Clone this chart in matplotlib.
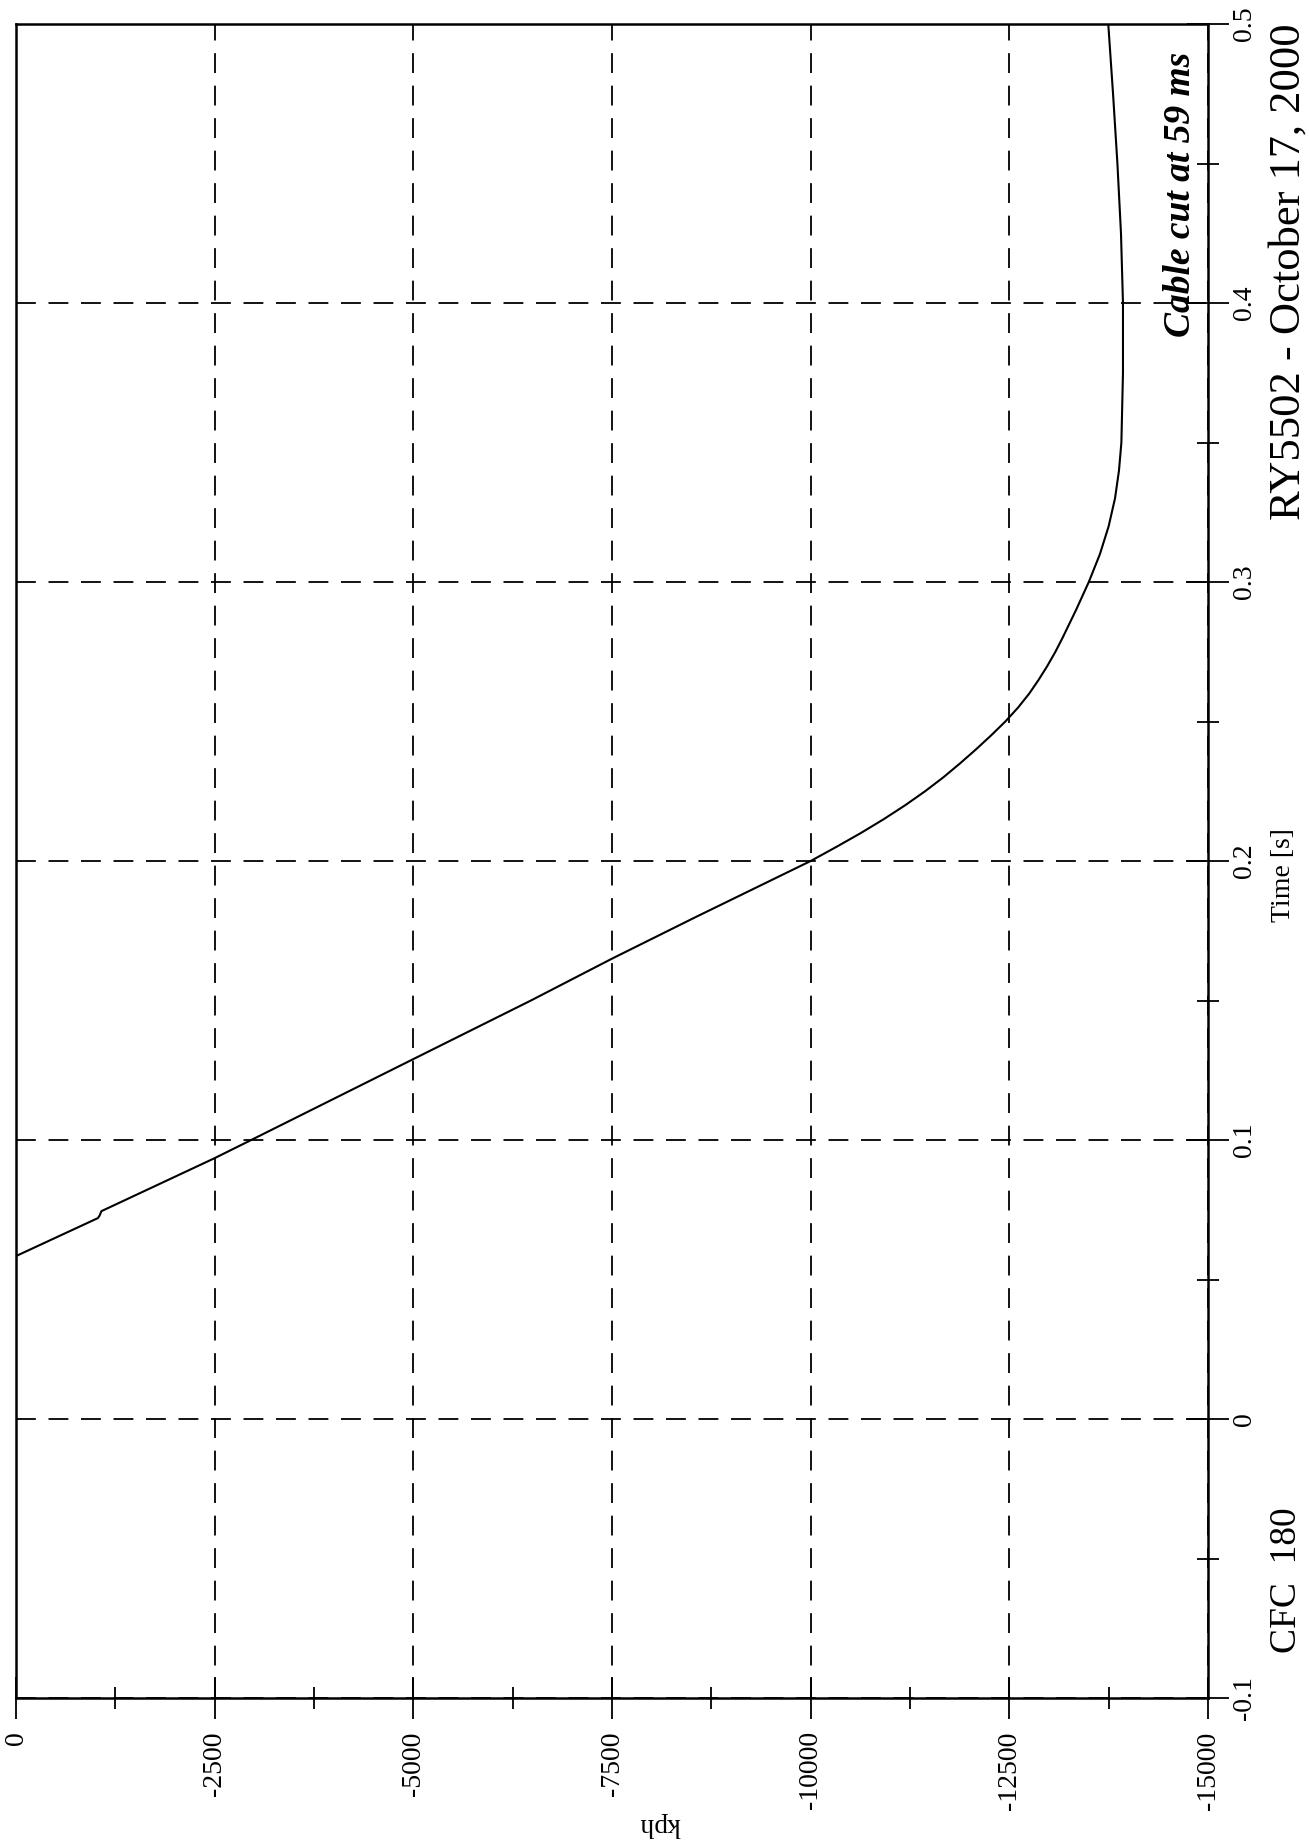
import matplotlib
matplotlib.use("Agg")
import matplotlib.pyplot as plt
from matplotlib.ticker import MultipleLocator

plt.rcParams['font.family'] = ['Liberation Serif', 'DejaVu Serif']

# velocity trace (time in s, speed in kph)
time_s = [0.0584, 0.0720, 0.0728, 0.0745, 0.0935, 0.1000, 0.1290, 0.1500,
          0.1650, 0.1800, 0.2000, 0.2050, 0.2100, 0.2150, 0.2200, 0.2250,
          0.2300, 0.2350, 0.2400, 0.2450, 0.2500, 0.2550, 0.2600, 0.2650,
          0.2700, 0.2750, 0.2800, 0.2900, 0.3000, 0.3100, 0.3200, 0.3300,
          0.3400, 0.3500, 0.3750, 0.4000, 0.4250, 0.4500, 0.4750, 0.5000]
kph = [0, -1030, -1050, -1075, -2500, -2960, -5000, -6480,
       -7500, -8560, -10000, -10320, -10630, -10920, -11190, -11440,
       -11670, -11880, -12080, -12270, -12450, -12610, -12750, -12870,
       -12980, -13080, -13170, -13340, -13500, -13640, -13750, -13830,
       -13880, -13910, -13930, -13930, -13905, -13860, -13805, -13745]

kph_ticks = [0, -2500, -5000, -7500, -10000, -12500, -15000]
kph_labels = ['0', '-2500', '-5000', '-7500', '-10000', '-12500', '-15000']
time_ticks = [-0.1, 0, 0.1, 0.2, 0.3, 0.4, 0.5]
time_labels = ['-0.1', '0', '0.1', '0.2', '0.3', '0.4', '0.5']

W, H = 1309, 1841
fig = plt.figure(figsize=(W / 100, H / 100), dpi=100)
fig.patch.set_facecolor('white')

# plot box in pixels: left 16, right 1208, top 24, bottom 1698
ax = fig.add_axes([16 / W, 1 - 1698 / H, (1208 - 16) / W, (1698 - 24) / H])

ax.plot(kph, time_s, color='black', lw=1.5, solid_joinstyle='round')

ax.set_xlim(0, -15000)
ax.set_ylim(-0.1, 0.5)

ax.set_xticks(kph_ticks)
ax.set_xticklabels(kph_labels, rotation=90, fontsize=20)
ax.xaxis.set_minor_locator(MultipleLocator(1250))

ax.yaxis.tick_right()
ax.set_yticks(time_ticks)
ax.set_yticklabels(time_labels, rotation=90, fontsize=20, va='center')
ax.yaxis.set_minor_locator(MultipleLocator(0.05))

ax.tick_params(axis='both', which='major', direction='inout', length=30,
               width=1.3, color='black')
ax.tick_params(axis='both', which='minor', direction='inout', length=16,
               width=1.3, color='black')
ax.tick_params(axis='x', which='major', pad=9)
ax.tick_params(axis='y', which='major', pad=2)

ax.grid(True, which='major', color='black', lw=1.3, linestyle=(0, (11, 7)))

for side in ['left', 'right', 'top', 'bottom']:
    ax.spines[side].set_linewidth(1.8)
    ax.spines[side].set_color('black')

ax.text(-14650, 0.439, 'Cable cut at 59 ms', rotation=90,
        fontsize=27, fontweight='bold', fontstyle='italic',
        ha='center', va='center')


def px(x, y):
    return x / W, 1 - y / H


fig.text(*px(660, 1824), 'kph', rotation=180, fontsize=20,
         ha='center', va='center')
fig.text(*px(1290, 875), 'Time [s]', rotation=90, fontsize=20,
         ha='center', va='baseline', rotation_mode='anchor')
fig.text(*px(1296, 1580), 'CFC  180', rotation=90, fontsize=27,
         ha='center', va='baseline', rotation_mode='anchor')
fig.text(*px(1300, 272), 'RY5502 - October 17, 2000', rotation=90,
         fontsize=32, ha='center', va='baseline', rotation_mode='anchor')

fig.savefig('out.png', dpi=100, facecolor='white')
plt.close(fig)
